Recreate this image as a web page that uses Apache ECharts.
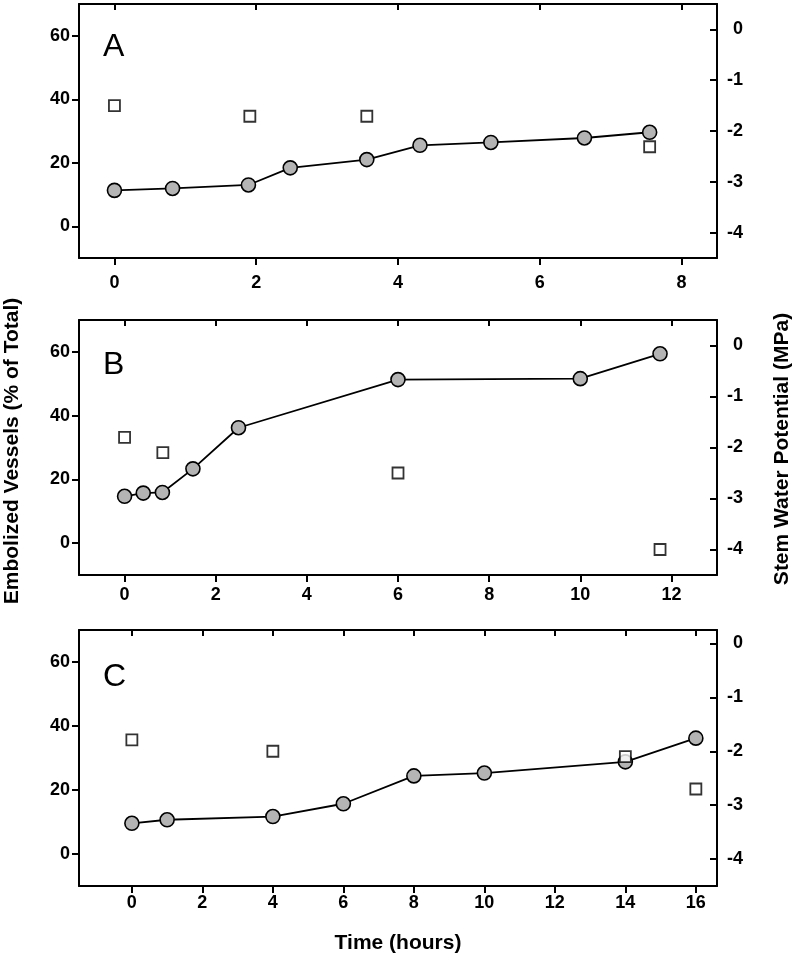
<!DOCTYPE html>
<html>
<head>
<meta charset="utf-8">
<script src="https://cdn.jsdelivr.net/npm/echarts@6/dist/echarts.min.js"></script>
<style>
html,body{margin:0;padding:0;background:#fff;}
#chart{width:796px;height:957px;}
</style>
</head>
<body>
<div id="chart"></div>
<script>
// ---- Data ----
// Panel A
const aCircleX = [0, 0.82, 1.89, 2.48, 3.56, 4.31, 5.31, 6.63, 7.55];
const aCircleY = [11.3, 11.9, 13.0, 18.4, 21.0, 25.5, 26.4, 27.8, 29.6];
const aSquareX = [0, 1.91, 3.56, 7.55];
const aSquareY = [-1.50, -1.71, -1.71, -2.31];
// Panel B
const bCircleX = [0, 0.41, 0.83, 1.50, 2.50, 6.0, 10.0, 11.75];
const bCircleY = [14.7, 15.7, 15.9, 23.3, 36.2, 51.3, 51.6, 59.4];
const bSquareX = [0, 0.84, 6.0, 11.75];
const bSquareY = [-1.80, -2.10, -2.50, -4.0];
// Panel C
const cCircleX = [0, 1, 4, 6, 8, 10, 14, 16];
const cCircleY = [9.6, 10.7, 11.7, 15.7, 24.4, 25.3, 28.8, 36.2];
const cSquareX = [0, 4, 14, 16];
const cSquareY = [-1.79, -2.00, -2.10, -2.70];

// Tick labels
const leftTicks = [0, 20, 40, 60];
const rightTicks = [-4, -3, -2, -1, 0];
const aXTicks = [0, 2, 4, 6, 8];
const bXTicks = [0, 2, 4, 6, 8, 10, 12];
const cXTicks = [0, 2, 4, 6, 8, 10, 12, 14, 16];

const panelLetters = ['A', 'B', 'C'];
const leftTitle = 'Embolized Vessels (% of Total)';
const rightTitle = 'Stem Water Potential (MPa)';
const xTitle = 'Time (hours)';

// ---- Layout / styles ----
const FONT = 'Liberation Sans, Arial, Helvetica, sans-serif';
const panels = [
  {top: 4, height: 254, xMin: -0.5, xMax: 8.5, xTicks: aXTicks, rMin: -4.5, rMax: 0.5, xMargin: 16, letterY: 38,
   cx: aCircleX, cy: aCircleY, sx: aSquareX, sy: aSquareY},
  {top: 320, height: 255, xMin: -1, xMax: 13, xTicks: bXTicks, rMin: -4.5, rMax: 0.5, xMargin: 11, letterY: 356,
   cx: bCircleX, cy: bCircleY, sx: bSquareX, sy: bSquareY},
  {top: 630, height: 256, xMin: -1.5, xMax: 16.6, xTicks: cXTicks, rMin: -4.5, rMax: 0.25, xMargin: 8, letterY: 668,
   cx: cCircleX, cy: cCircleY, sx: cSquareX, sy: cSquareY}
];

const lineStyleAxis = {color: '#000', width: 2};
const labelStyle = {color: '#000', fontSize: 18, fontWeight: 'bold', fontFamily: FONT};

const grid = [], xAxis = [], yAxis = [], series = [], graphic = [];
panels.forEach((p, i) => {
  grid.push({left: 79, right: 79, top: p.top, height: p.height, containLabel: false});
  xAxis.push({
    type: 'value', gridIndex: i, position: 'bottom', min: p.xMin, max: p.xMax,
    axisLine: {show: true, onZero: false, lineStyle: lineStyleAxis},
    axisTick: {show: true, inside: false, length: 7, lineStyle: lineStyleAxis, customValues: p.xTicks},
    axisLabel: Object.assign({show: true, margin: p.xMargin, customValues: p.xTicks}, labelStyle),
    splitLine: {show: false}
  });
  xAxis.push({
    type: 'value', gridIndex: i, position: 'top', min: p.xMin, max: p.xMax,
    axisLine: {show: true, onZero: false, lineStyle: lineStyleAxis},
    axisTick: {show: true, inside: true, length: 6, lineStyle: lineStyleAxis, customValues: p.xTicks},
    axisLabel: {show: false},
    splitLine: {show: false}
  });
  yAxis.push({
    type: 'value', gridIndex: i, position: 'left', min: -10, max: 70,
    axisLine: {show: true, onZero: false, lineStyle: lineStyleAxis},
    axisTick: {show: true, inside: false, length: 7, lineStyle: lineStyleAxis, customValues: leftTicks},
    axisLabel: Object.assign({show: true, margin: 9, customValues: leftTicks}, labelStyle),
    splitLine: {show: false}
  });
  yAxis.push({
    type: 'value', gridIndex: i, position: 'right', min: p.rMin, max: p.rMax,
    axisLine: {show: true, onZero: false, lineStyle: lineStyleAxis},
    axisTick: {show: true, inside: true, length: 7, lineStyle: lineStyleAxis, customValues: rightTicks},
    axisLabel: Object.assign({show: true, margin: 26, align: 'right', customValues: rightTicks}, labelStyle),
    splitLine: {show: false}
  });
  series.push({
    type: 'line', xAxisIndex: i * 2, yAxisIndex: i * 2, z: 3,
    data: p.cx.map((x, k) => [x, p.cy[k]]),
    symbol: 'circle', symbolSize: 14, showAllSymbol: true,
    lineStyle: {color: '#000', width: 1.8},
    itemStyle: {color: '#b4b4b4', borderColor: '#000', borderWidth: 1.6},
    emphasis: {disabled: true}, animation: false
  });
  series.push({
    type: 'scatter', xAxisIndex: i * 2, yAxisIndex: i * 2 + 1, z: 4,
    data: p.sx.map((x, k) => [x, p.sy[k]]),
    symbol: 'rect', symbolSize: 11,
    itemStyle: {color: '#fff', borderColor: '#000', borderWidth: 1.8},
    emphasis: {disabled: true}, animation: false
  });
  graphic.push({
    type: 'text', x: 103, y: p.letterY - 7,
    style: {text: panelLetters[i], font: '32px ' + FONT, fill: '#000', textAlign: 'left', textVerticalAlign: 'top'}
  });
});

graphic.push({
  type: 'text', x: 12, y: 451, rotation: Math.PI / 2,
  style: {text: leftTitle, font: 'bold 21px ' + FONT, fill: '#000', textAlign: 'center', textVerticalAlign: 'middle'}
});
graphic.push({
  type: 'text', x: 782, y: 449, rotation: Math.PI / 2,
  style: {text: rightTitle, font: 'bold 21px ' + FONT, fill: '#000', textAlign: 'center', textVerticalAlign: 'middle'}
});
graphic.push({
  type: 'text', x: 398, y: 943,
  style: {text: xTitle, font: 'bold 21px ' + FONT, fill: '#000', textAlign: 'center', textVerticalAlign: 'middle'}
});

const chart = echarts.init(document.getElementById('chart'), null, {renderer: 'canvas'});
chart.setOption({
  animation: false,
  backgroundColor: '#fff',
  grid, xAxis, yAxis, series, graphic
});
</script>
</body>
</html>
